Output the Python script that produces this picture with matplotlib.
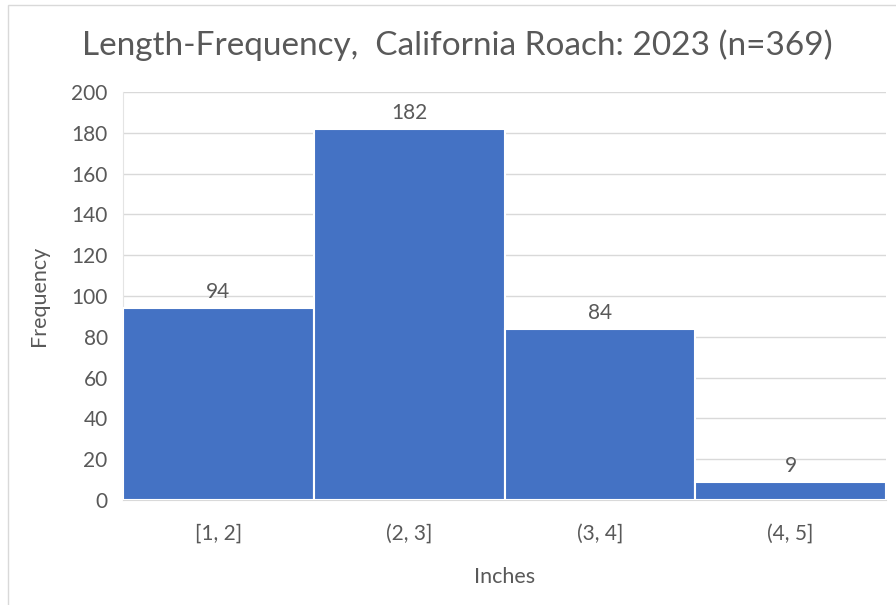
import matplotlib
matplotlib.use("Agg")
import matplotlib.pyplot as plt
from matplotlib.patches import Rectangle

categories = ["[1, 2]", "(2, 3]", "(3, 4]", "(4, 5]"]
counts = [94, 182, 84, 9]
y_ticks = list(range(0, 201, 20))

title = "Length-Frequency,  California Roach: 2023 (n=369)"
x_label = "Inches"
y_label = "Frequency"

plt.rcParams["font.family"] = ["Lato", "DejaVu Sans"]
text_color = "#595959"
bar_color = "#4472C4"
grid_color = "#D9D9D9"

fig = plt.figure(figsize=(8.96, 6.05), dpi=100)
fig.patch.set_facecolor("white")

# chart-area border
fig.patches.append(Rectangle((8 / 896, -0.05), 1.2, (605 - 5) / 605 + 0.05,
                             transform=fig.transFigure, fill=False,
                             edgecolor="#D9D9D9", linewidth=1.0))

ax = fig.add_axes([123 / 896, 105 / 605, (886 - 123) / 896, (500 - 92) / 605])
x = list(range(len(categories)))
ax.bar(x, counts, width=1.0, color=bar_color, edgecolor="white", linewidth=1.5, zorder=3)

for xi, v in zip(x, counts):
    ax.text(xi, v + 3, str(v), ha="center", va="bottom", fontsize=15, color=text_color, zorder=4)

ax.set_xlim(-0.5, len(categories) - 0.5)
ax.set_ylim(0, 200)
ax.set_yticks(y_ticks)
ax.set_xticks(x)
ax.set_xticklabels(categories)
ax.tick_params(axis="both", length=0, labelsize=15, labelcolor=text_color)
ax.tick_params(axis="x", pad=17)
ax.tick_params(axis="y", pad=11)
ax.yaxis.grid(True, color=grid_color, linewidth=1.0, zorder=0)
ax.set_axisbelow(True)

for side in ["top", "right"]:
    ax.spines[side].set_visible(False)
ax.spines["left"].set_color("#E4E4E4")
ax.spines["bottom"].set_color(grid_color)

ax.set_xlabel(x_label, fontsize=15.5, color=text_color, labelpad=17)
ax.set_ylabel(y_label, fontsize=15.5, color=text_color, labelpad=16)

fig.text(457 / 896, 1 - 45 / 605, title, ha="center", va="center",
         fontsize=24, color=text_color)

fig.savefig("out.png", dpi=100)
